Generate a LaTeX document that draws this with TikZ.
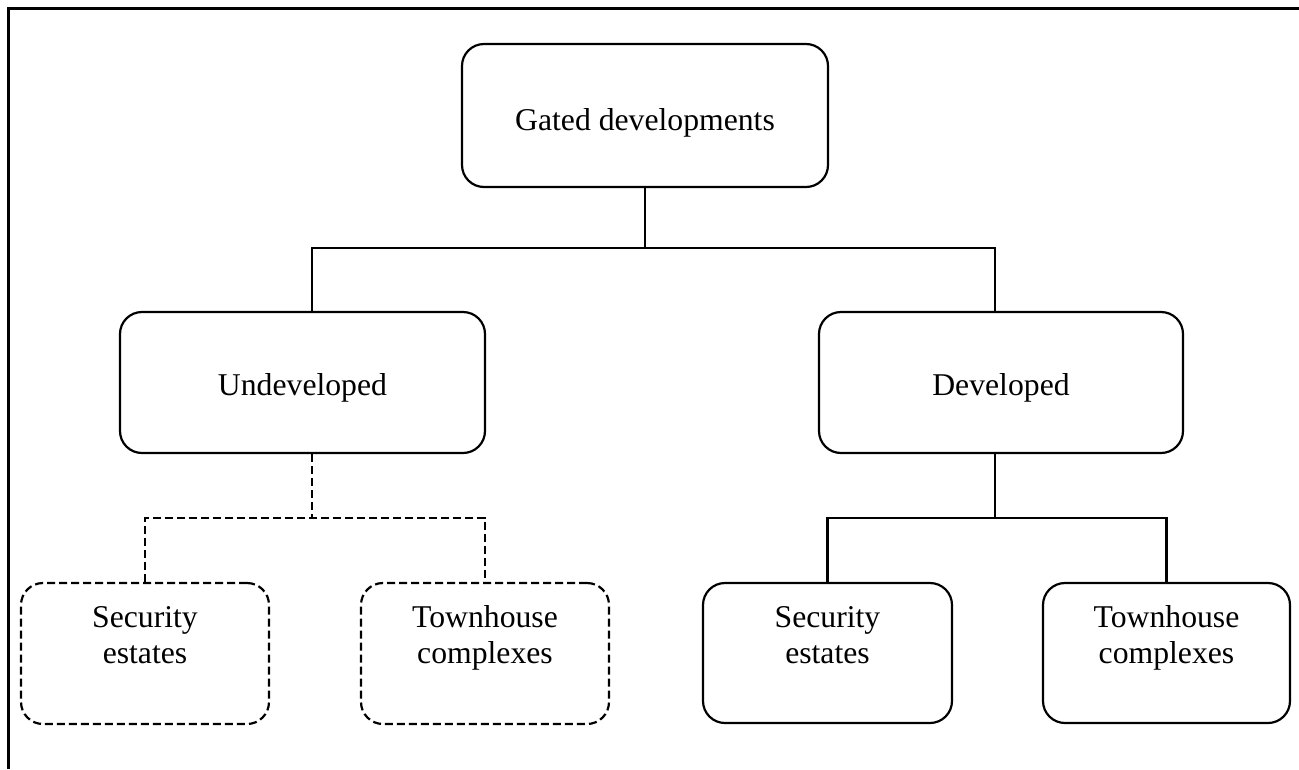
\documentclass[tikz,border=0pt]{standalone}
\usepackage{fontspec}
\setmainfont{Liberation Serif}
\begin{document}
\begin{tikzpicture}[x=1pt,y=-1pt,
  box/.style={draw, line width=2.2pt, rounded corners=22pt, inner sep=0pt},
  dbox/.style={box, dash pattern=on 8pt off 4pt},
  conn/.style={line width=2.2pt},
  dconn/.style={conn, dash pattern=on 8pt off 4pt},
  txt/.style={inner sep=0pt, align=center, font=\fontsize{31.7}{36}\selectfont}]
\useasboundingbox (0,0) rectangle (1299,769);
% frame along the top and left edges
\draw[line width=3pt] (1299,8.5) -- (8.5,8.5) -- (8.5,769);

% boxes
\node[box, minimum width=366pt, minimum height=143pt] (top) at (645,115.5) {};
\node[box, minimum width=365pt, minimum height=141pt] (undev) at (302.5,382.5) {};
\node[box, minimum width=364pt, minimum height=141pt] (dev) at (1001,382.5) {};
\node[dbox, minimum width=248pt, minimum height=141pt] (usec) at (145,653.5) {};
\node[dbox, minimum width=248pt, minimum height=141pt] (utown) at (485,653.5) {};
\node[box, minimum width=249pt, minimum height=140pt] (dsec) at (827.5,653) {};
\node[box, minimum width=247pt, minimum height=140pt] (dtown) at (1166.5,653) {};

% labels (base anchor of a two-line label sits on its last line)
\node[txt, anchor=base] (ttop) at (645,130) {Gated developments};
\node[txt, anchor=base] (tundev) at (302.5,395) {Undeveloped};
\node[txt, anchor=base] (tdev) at (1001,395) {Developed};
\node[txt, anchor=base] (tusec) at (145,663) {Security\\estates};
\node[txt, anchor=base] (tutown) at (485,663) {Townhouse\\complexes};
\node[txt, anchor=base] (tdsec) at (827.5,663) {Security\\estates};
\node[txt, anchor=base] (tdtown) at (1166.5,663) {Townhouse\\complexes};

% junctions
\coordinate (jtop) at (645,248);
\coordinate (xu) at (312,0);
\coordinate (xd) at (995,0);
\coordinate (ju) at (312,518);
\coordinate (jd) at (995,518);

% connectors
\draw[conn] (top.south) -- (jtop);
\draw[conn] (undev.north -| xu) |- (jtop) -| (dev.north -| xd);
\draw[dconn] (undev.south -| xu) -- (ju);
\draw[dconn] (usec.north) |- (ju) -| (utown.north);
\draw[conn] (dev.south -| xd) -- (jd);
\draw[conn] (dsec.north) |- (jd) -| (dtown.north);
\end{tikzpicture}
\end{document}
